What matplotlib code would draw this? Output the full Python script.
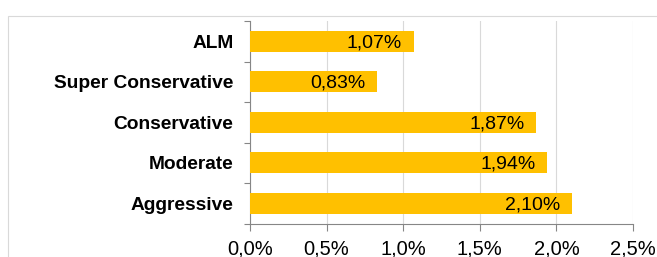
import matplotlib.pyplot as plt
from matplotlib.patches import Rectangle

categories = ['ALM', 'Super Conservative', 'Conservative', 'Moderate', 'Aggressive']
values = [1.07, 0.83, 1.87, 1.94, 2.10]
xticks = [0.0, 0.5, 1.0, 1.5, 2.0, 2.5]

plt.rcParams['font.family'] = ['Liberation Sans', 'DejaVu Sans']

fig = plt.figure(figsize=(6.57, 2.57), dpi=100)
ax = fig.add_axes([250 / 657, 1 - 223.5 / 257, 383 / 657, 202.5 / 257])

# outer chart frame
fig.patches.append(Rectangle((8 / 657, -0.1), 1.2, 1 - 16 / 257 + 0.1, transform=fig.transFigure,
                             fill=False, edgecolor='#d9d9d9', linewidth=0.8))

ypos = list(range(len(categories)))[::-1]
ax.barh(ypos, values, height=0.53, color='#FFC000', zorder=3)

for y, v in zip(ypos, values):
    ax.annotate(f'{v:.2f}%'.replace('.', ','), xy=(v, y), xytext=(-8.5, -1),
                textcoords='offset points', ha='right', va='center', fontsize=14, zorder=4)

ax.set_xlim(0, 2.5)
ax.set_ylim(-0.5, 4.5)
ax.set_xticks(xticks)
ax.set_xticklabels([f'{t:.1f}%'.replace('.', ',') for t in xticks], fontsize=14.5)
ax.set_yticks(ypos)
ax.set_yticklabels(categories, fontsize=13.8, fontweight='bold')
ax.set_yticks([i + 0.5 for i in range(-1, 5)], minor=True)
ax.tick_params(axis='y', which='major', length=0, pad=12)
ax.tick_params(axis='y', which='minor', length=4.5, color='#868686', width=0.8)
ax.tick_params(axis='x', length=4.8, color='#868686', width=0.8, pad=7)

ax.grid(axis='x', color='#d9d9d9', linewidth=0.8, zorder=0)
for s in ['top', 'right']:
    ax.spines[s].set_visible(False)
for s in ['left', 'bottom']:
    ax.spines[s].set_color('#868686')
    ax.spines[s].set_linewidth(0.8)

fig.savefig('out.png', dpi=100)
